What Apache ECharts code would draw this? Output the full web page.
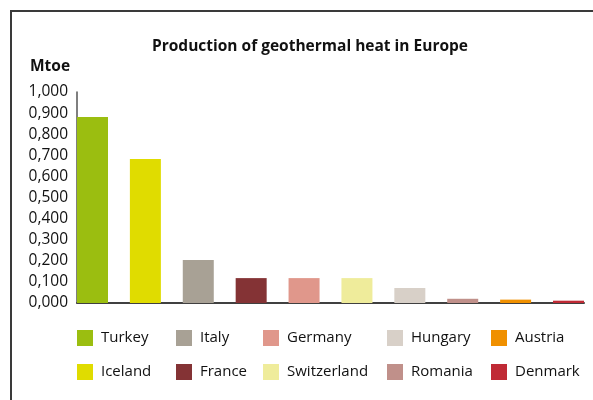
<!DOCTYPE html>
<html>
<head>
<meta charset="utf-8">
<script src="https://cdn.jsdelivr.net/npm/echarts@6/dist/echarts.min.js"></script>
<style>
  html, body { margin: 0; padding: 0; background: #fff; }
  #chart { width: 593px; height: 400px; }
</style>
</head>
<body>
<div id="chart"></div>
<script>
// Geothermal heat production by country (Mtoe)
const countries = ['Turkey', 'Iceland', 'Italy', 'France', 'Germany',
                   'Switzerland', 'Hungary', 'Romania', 'Austria', 'Denmark'];
const production = [0.881, 0.682, 0.204, 0.118, 0.118, 0.118, 0.071, 0.020, 0.016, 0.011];
const colors = ['#9bbe10', '#e0dc00', '#a8a195', '#843335', '#e0978b',
                '#efec9b', '#d8d0c8', '#c0908a', '#f09000', '#c02a35'];
const yTicks = { min: 0, max: 1, step: 0.1 };

const FONT = '"Open Sans", "Noto Sans", sans-serif';

// each country is its own series so the legend lists it with its colour
const series = countries.map((name, i) => ({
  name: name,
  type: 'bar',
  stack: 'all',
  barWidth: 31,
  itemStyle: { color: colors[i] },
  data: [[i, production[i]]]
}));

// legend laid out as five columns of two entries
const legendCols = [77, 176, 263, 387, 491];
const legends = legendCols.map((x, c) => ({
  orient: 'vertical',
  left: x,
  top: 330,
  itemWidth: 16,
  itemHeight: 16,
  itemGap: 18,
  icon: 'rect',
  textStyle: { fontFamily: FONT, fontSize: 15, color: '#111', padding: [0, 0, 0, 3] },
  data: [countries[2 * c], countries[2 * c + 1]],
  padding: 0,
  selectedMode: false
}));

const chart = echarts.init(document.getElementById('chart'), null, { renderer: 'canvas' });
chart.setOption({
  animation: false,
  backgroundColor: '#fff',
  title: [{
    text: 'Production of geothermal heat in Europe',
    left: 310,
    textAlign: 'center',
    top: 39,
    padding: 0,
    textStyle: { fontFamily: FONT, fontSize: 15.5, fontWeight: 'bold', color: '#111' }
  }, {
    text: 'Mtoe',
    left: 30,
    top: 59,
    padding: 0,
    textStyle: { fontFamily: FONT, fontSize: 15.5, fontWeight: 'bold', color: '#111' }
  }],
  legend: legends,
  grid: { left: 77, right: 9, top: 92, bottom: 97, containLabel: false },
  xAxis: {
    type: 'value',
    min: -0.293,
    max: countries.length - 1 + 0.293,
    axisLine: { show: true, onZero: false, lineStyle: { color: '#404040', width: 2 } },
    axisTick: { show: false },
    axisLabel: { show: false },
    splitLine: { show: false }
  },
  yAxis: {
    type: 'value',
    min: yTicks.min,
    max: yTicks.max,
    interval: yTicks.step,
    axisLine: { show: true, onZero: false, lineStyle: { color: '#555', width: 1.5 } },
    axisTick: { show: false },
    splitLine: { show: false },
    axisLabel: {
      margin: 9,
      fontFamily: FONT,
      fontSize: 15.5,
      color: '#111',
      formatter: v => v.toFixed(3).replace('.', ',')
    }
  },
  graphic: [{
    type: 'polyline',
    shape: { points: [[11, 400], [11, 11], [593, 11]] },
    style: { stroke: '#3a3a3a', lineWidth: 2, fill: null }
  }],
  series: series
});
</script>
</body>
</html>
